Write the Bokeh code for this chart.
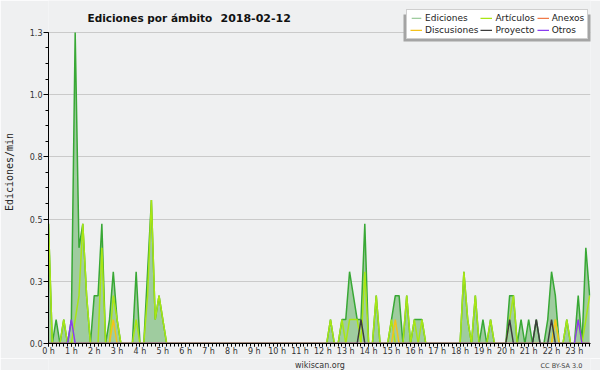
from bokeh.plotting import figure
from bokeh.layouts import column
from bokeh.models import (Range1d, FixedTicker, PrintfTickFormatter, Label, Legend,
                          LegendItem, BoxAnnotation, ColumnDataSource)
from bokeh.embed import file_html
from bokeh.resources import INLINE

# ---------------- data (10-minute bins, 0 = 00:00 ... 142 = 23:40) ----------------
N_BINS = 143
hour_ticks = [6 * h for h in range(24)]
hour_labels = [f"{h} h" for h in range(24)]
y_ticks = [0.0, 0.26, 0.52, 0.78, 1.04, 1.3]

# edits per minute for each bin (bins not listed had no edits)
ediciones = {0: 0.5, 2: 0.1, 4: 0.1, 6: 0.1, 7: 1.3, 8: 0.4, 9: 0.5, 10: 0.2,
             12: 0.2, 13: 0.2, 14: 0.5, 16: 0.1, 17: 0.3, 18: 0.1, 23: 0.3,
             26: 0.3, 27: 0.6, 28: 0.1, 29: 0.2, 30: 0.1,
             74: 0.1, 77: 0.1, 78: 0.1, 79: 0.3, 80: 0.2, 81: 0.1, 82: 0.1, 83: 0.5,
             86: 0.2, 90: 0.1, 91: 0.2, 92: 0.2, 94: 0.2, 96: 0.1, 97: 0.1, 98: 0.1,
             109: 0.3, 110: 0.1, 112: 0.2, 114: 0.1, 116: 0.1,
             121: 0.2, 122: 0.2, 124: 0.1, 126: 0.1, 128: 0.1,
             131: 0.1, 132: 0.3, 133: 0.2, 136: 0.1, 139: 0.2, 141: 0.4, 142: 0.2}
articulos = {0: 0.5, 4: 0.1, 7: 0.1, 8: 0.2, 9: 0.5, 10: 0.2, 14: 0.4, 17: 0.2,
             18: 0.1, 23: 0.1, 26: 0.2, 27: 0.6, 28: 0.1, 29: 0.2, 30: 0.1,
             74: 0.1, 77: 0.1, 79: 0.1, 80: 0.1, 81: 0.1, 83: 0.3, 86: 0.2,
             90: 0.1, 94: 0.2, 96: 0.1, 98: 0.1,
             109: 0.3, 110: 0.1, 112: 0.2, 116: 0.1, 121: 0.1, 122: 0.2,
             133: 0.1, 136: 0.1, 139: 0.1, 141: 0.1, 142: 0.2}
anexos = {}
discusiones = {17: 0.1, 91: 0.1, 133: 0.1}
proyecto = {82: 0.1, 121: 0.1, 128: 0.1, 132: 0.1}
otros = {6: 0.1, 139: 0.1}

title_text = "Ediciones por ámbito"
date_text = "2018-02-12"


def series(d):
    return [d.get(i, 0.0) for i in range(N_BINS)]


src = ColumnDataSource(dict(
    x=list(range(N_BINS)),
    ed=series(ediciones), art=series(articulos), anx=series(anexos),
    disc=series(discusiones), proj=series(proyecto), otr=series(otros),
))

BG = "#eff0f1"
# frame: x 46..590 px, y 0..344 px (value 1.3 sits at 32 px from the top)
X_END = 544 / 3.825
Y_END = 1.3 * 344 / 312
p = figure(width=600, height=358, output_backend="svg", toolbar_location=None,
           title=None, x_range=Range1d(0, X_END), y_range=Range1d(0, Y_END),
           min_border_left=46, min_border_right=10, min_border_top=0,
           min_border_bottom=14, background_fill_color=BG, border_fill_color=BG,
           outline_line_color=None)

# ---------------- glyphs ----------------
r_area = p.varea(x="x", y1=0, y2="ed", source=src, fill_color="#9fcc9f", fill_alpha=1.0)
r_ed = p.line("x", "ed", source=src, line_color="#38a835", line_width=1.5)
r_anx = p.line("x", "anx", source=src, line_color="#f07a48", line_width=1.5)
r_art = p.line("x", "art", source=src, line_color="#a8e614", line_width=1.5)
r_disc = p.line("x", "disc", source=src, line_color="#f5c21b", line_width=1.5)
r_proj = p.line("x", "proj", source=src, line_color="#3c3c3c", line_width=1.5)
r_otr = p.line("x", "otr", source=src, line_color="#8a3cf0", line_width=1.5)

# ---------------- axes ----------------
xa = p.xaxis[0]
xa.ticker = FixedTicker(ticks=hour_ticks, minor_ticks=list(range(N_BINS)))
xa.major_label_overrides = {t: lab for t, lab in zip(hour_ticks, hour_labels)}
xa.bounds = (0, X_END)
xa.major_tick_in = 0
xa.major_tick_out = 3
xa.minor_tick_in = 0
xa.minor_tick_out = 3
xa.major_label_standoff = 0
xa.major_label_text_font = "DejaVu Sans"
xa.major_label_text_font_size = "8px"
xa.major_label_text_color = "#333333"
xa.axis_line_color = "black"

ya = p.yaxis[0]
ya.ticker = FixedTicker(ticks=y_ticks, minor_ticks=[0.065 * k for k in range(21)])
ya.formatter = PrintfTickFormatter(format="%.1f")
ya.bounds = (0, 1.3)
ya.major_tick_in = 0
ya.major_tick_out = 5
ya.minor_tick_in = 0
ya.minor_tick_out = 3
ya.major_label_standoff = 1
ya.major_label_text_font = "DejaVu Sans"
ya.major_label_text_font_size = "8px"
ya.major_label_text_color = "#333333"
ya.axis_line_color = "black"
ya.axis_label = "Ediciones/min"
ya.axis_label_text_font = "DejaVu Sans Mono"
ya.axis_label_text_font_size = "10px"
ya.axis_label_text_font_style = "normal"
ya.axis_label_text_color = "#222222"
ya.axis_label_standoff = 12

p.xgrid.grid_line_color = None
p.ygrid.grid_line_color = "#cacaca"
p.ygrid.ticker = FixedTicker(ticks=y_ticks)

# ---------------- title ----------------
p.add_layout(Label(x=39, y=326, x_units="screen", y_units="screen",
                   text=title_text, text_font="DejaVu Sans",
                   text_font_style="bold", text_font_size="10.5px", text_color="#111111",
                   text_baseline="alphabetic"))
p.add_layout(Label(x=172, y=326, x_units="screen", y_units="screen",
                   text=date_text, text_font="DejaVu Sans",
                   text_font_style="bold", text_font_size="11px", text_color="#111111",
                   text_baseline="alphabetic"))

# ---------------- legend ----------------
p.add_layout(BoxAnnotation(left=355, right=543, top=329, bottom=302,
                           left_units="screen", right_units="screen",
                           top_units="screen", bottom_units="screen",
                           fill_color="#a4a4a4", fill_alpha=1.0, line_color=None))
legend = Legend(items=[
    LegendItem(label="Ediciones", renderers=[r_area]),
    LegendItem(label="Artículos", renderers=[r_art]),
    LegendItem(label="Anexos", renderers=[r_anx]),
    LegendItem(label="Discusiones", renderers=[r_disc]),
    LegendItem(label="Proyecto", renderers=[r_proj]),
    LegendItem(label="Otros", renderers=[r_otr]),
], orientation="horizontal", ncols=3, location=(358, 304))
legend.label_text_font = "DejaVu Sans"
legend.label_text_font_size = "9px"
legend.label_text_color = "#222222"
legend.glyph_width = 12
legend.glyph_height = 2
legend.label_height = 10
legend.label_standoff = 3
legend.spacing = 2
legend.padding = 3
legend.margin = 0
legend.border_line_color = "#a0a0a0"
legend.border_line_width = 1
legend.background_fill_color = "white"
legend.background_fill_alpha = 1.0
p.add_layout(legend)

# ---------------- footer strip ----------------
f = figure(width=600, height=12, output_backend="svg", toolbar_location=None,
           title=None, x_range=Range1d(0, 600), y_range=Range1d(0, 12),
           x_axis_location=None, y_axis_location=None,
           min_border_left=0, min_border_right=0, min_border_top=0, min_border_bottom=0,
           background_fill_color=BG, border_fill_color=BG, outline_line_color=None)
f.grid.visible = False
f.add_layout(Label(x=300.5, y=5, text="wikiscan.org", text_font="DejaVu Sans",
                   text_font_size="8px", text_color="#333333", text_align="center",
                   text_baseline="alphabetic"))
f.add_layout(Label(x=591, y=5, text="CC BY-SA 3.0", text_font="DejaVu Sans",
                   text_font_size="6.5px", text_color="#444444", text_align="right",
                   text_baseline="alphabetic"))

layout = column(p, f, spacing=0)
open("out.html", "w").write(file_html(layout, INLINE))
